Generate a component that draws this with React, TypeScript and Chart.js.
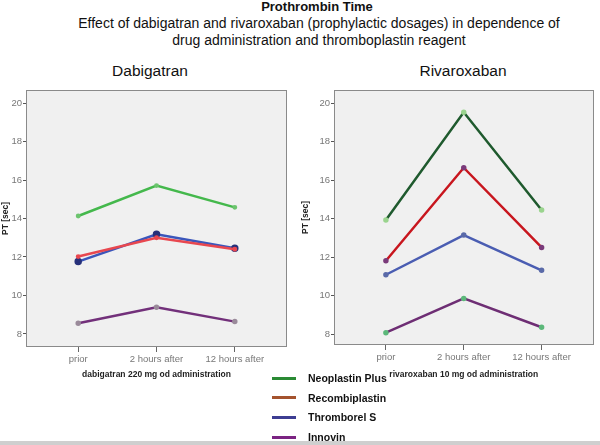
import React, { useEffect, useRef } from "react";
import { Chart, registerables } from "chart.js";

Chart.register(...registerables);

const categories = ["prior", "2 hours after", "12 hours after"];
const reagents = ["Neoplastin Plus", "Recombiplastin", "Thromborel S", "Innovin"];
const yTicks = [8, 10, 12, 14, 16, 18, 20];

// Dabigatran panel
const dabNeoplastin = [14.13, 15.71, 14.58];
const dabRecombiplastin = [12.02, 13.0, 12.4];
const dabThromborel = [11.76, 13.18, 12.45];
const dabInnovin = [8.55, 9.39, 8.64];

// Rivaroxaban panel
const rivNeoplastin = [13.92, 19.52, 14.44];
const rivRecombiplastin = [11.81, 16.64, 12.5];
const rivThromborel = [11.08, 13.14, 11.31];
const rivInnovin = [8.07, 9.85, 8.35];

const legendColors = ["#2a8a34", "#a4532e", "#3d3d92", "#7b2382"];

const FONT = "'Liberation Sans', Arial, sans-serif";
const NARROW = "'Liberation Sans Narrow', 'Liberation Sans', Arial, sans-serif";

const framePlugin = {
  id: "frame",
  beforeDraw(chart: any) {
    const { ctx, chartArea: a } = chart;
    ctx.save();
    ctx.fillStyle = "#f0f0f0";
    ctx.fillRect(a.left, a.top, a.right - a.left, a.bottom - a.top);
    ctx.restore();
  },
  afterDatasetsDraw(chart: any) {
    const { ctx, chartArea: a } = chart;
    ctx.save();
    ctx.strokeStyle = "#8a8a8a";
    ctx.lineWidth = 1;
    ctx.strokeRect(Math.round(a.left) + 0.5, Math.round(a.top) + 0.5, Math.round(a.right - a.left) - 1, Math.round(a.bottom - a.top) - 1);
    ctx.restore();
  },
};

type Series = { values: number[]; color: string; point: string; radius: number };

function Panel(props: {
  left: number;
  yWidth: number;
  padRight: number;
  xHeight: number;
  yMin: number;
  yMax: number;
  series: Series[];
  xTitle: string;
}) {
  const ref = useRef<HTMLCanvasElement>(null);
  useEffect(() => {
    const chart = new Chart(ref.current!, {
      type: "line",
      data: {
        datasets: props.series.map((s, k) => ({
          label: reagents[k],
          data: s.values.map((v, i) => ({ x: i, y: v })),
          borderColor: s.color,
          backgroundColor: s.point,
          pointBackgroundColor: s.point,
          pointBorderColor: s.point,
          pointRadius: s.radius,
          borderWidth: 2.5,
          tension: 0,
        })),
      },
      options: {
        animation: false,
        responsive: false,
        maintainAspectRatio: false,
        layout: { padding: { top: 10, right: props.padRight, left: 0, bottom: 0 } },
        plugins: { legend: { display: false }, tooltip: { enabled: false }, title: { display: false } },
        scales: {
          x: {
            type: "linear",
            min: -2 / 3,
            max: 8 / 3,
            afterBuildTicks: (s: any) => {
              s.ticks = categories.map((_, i) => ({ value: i }));
            },
            afterFit: (s: any) => {
              s.height = props.xHeight;
            },
            grid: { display: true, drawOnChartArea: false, drawTicks: true, tickLength: 5, tickColor: "#666" },
            border: { display: false },
            ticks: {
              autoSkip: false,
              maxRotation: 0,
              padding: 2,
              color: "#777",
              font: { family: NARROW, size: 9.5 },
              callback: (v: any) => categories[v as number] ?? "",
            },
            title: {
              display: true,
              text: props.xTitle,
              color: "#222",
              font: { family: NARROW, size: 8.5, weight: "bold" },
              padding: { top: 0, bottom: 20 },
            },
          },
          y: {
            type: "linear",
            min: props.yMin,
            max: props.yMax,
            afterBuildTicks: (s: any) => {
              s.ticks = yTicks.map((v) => ({ value: v }));
            },
            afterFit: (s: any) => {
              s.width = props.yWidth;
            },
            grid: { display: true, drawOnChartArea: false, drawTicks: true, tickLength: 3, tickColor: "#555" },
            border: { display: false },
            ticks: {
              padding: 1,
              color: "#777",
              font: { family: NARROW, size: 9.5 },
            },
            title: {
              display: true,
              text: "PT [sec]",
              color: "#222",
              font: { family: FONT, size: 8.5, weight: "bold" },
              padding: { top: 1, bottom: 0 },
            },
          },
        },
      },
      plugins: [framePlugin],
    });
    return () => chart.destroy();
  }, []);
  return (
    <canvas
      ref={ref}
      width={300}
      height={320}
      style={{ position: "absolute", left: props.left, top: 80, width: 300, height: 320 }}
    />
  );
}

export default function App() {
  const dab: Series[] = [
    { values: dabNeoplastin, color: "#44b84c", point: "#6cc46e", radius: 1.2 },
    { values: dabRecombiplastin, color: "#e8474f", point: "#e8474f", radius: 1.2 },
    { values: dabThromborel, color: "#3b56bb", point: "#26307a", radius: 2.5 },
    { values: dabInnovin, color: "#72307a", point: "#9a8a9a", radius: 1.5 },
  ];
  const riv: Series[] = [
    { values: rivNeoplastin, color: "#1f5a2e", point: "#9ad48e", radius: 1.5 },
    { values: rivRecombiplastin, color: "#c8161e", point: "#7a3a7a", radius: 1.5 },
    { values: rivThromborel, color: "#4a5db2", point: "#5a6aa8", radius: 1.5 },
    { values: rivInnovin, color: "#6e2e74", point: "#5cb87a", radius: 1.5 },
  ];
  const text = (s: string, x: number, y: number, size: number, bold = false) => (
    <div
      style={{
        position: "absolute",
        left: x - 300,
        top: y - size * 0.6,
        width: 600,
        textAlign: "center",
        fontFamily: FONT,
        fontSize: size,
        fontWeight: bold ? "bold" : "normal",
        lineHeight: `${size * 1.2}px`,
        color: "#111",
        whiteSpace: "nowrap",
      }}
    >
      {s}
    </div>
  );
  return (
    <div style={{ position: "absolute", left: 0, top: 0, width: 600, height: 445, background: "#fff", overflow: "hidden" }}>
      {text("Prothrombin Time", 317, 7, 13, true)}
      {text("Effect of dabigatran and rivaroxaban (prophylactic dosages) in dependence of", 319, 23, 14)}
      {text("drug administration and thromboplastin reagent", 319, 40, 14)}
      {text("Dabigatran", 150, 71, 15.5)}
      {text("Rivaroxaban", 463, 71, 15.5)}
      <Panel left={0} yWidth={26} padRight={13} xHeight={53} yMin={7.32} yMax={20.68} series={dab} xTitle="dabigatran 220 mg od administration" />
      <Panel left={300} yWidth={34} padRight={5} xHeight={55} yMin={7.43} yMax={20.68} series={riv} xTitle="rivaroxaban 10 mg od administration" />
      {reagents.map((r, i) => (
        <div key={r} style={{ position: "absolute", left: 272, top: 378 + i * 19.7 - 7, height: 14, display: "flex", alignItems: "center" }}>
          <div style={{ width: 24, height: 3, background: legendColors[i] }} />
          <div style={{ marginLeft: 12, fontFamily: FONT, fontWeight: "bold", fontSize: 10.5, color: "#111", whiteSpace: "nowrap" }}>{r}</div>
        </div>
      ))}
      <div style={{ position: "absolute", left: 0, top: 441, width: 600, height: 4, background: "#cfcfcf" }} />
    </div>
  );
}
